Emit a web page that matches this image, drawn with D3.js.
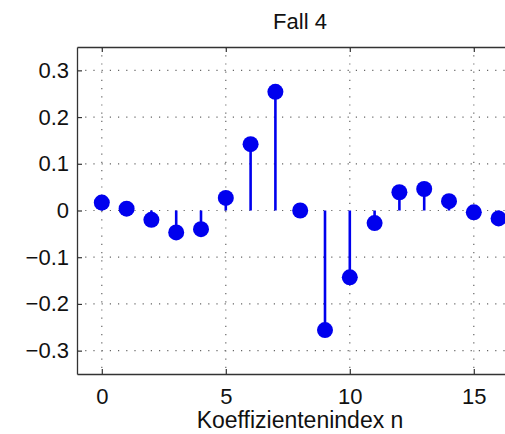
<!DOCTYPE html>
<html>
<head>
<meta charset="utf-8">
<title>Fall 4</title>
<script src="https://cdnjs.cloudflare.com/ajax/libs/d3/7.8.5/d3.min.js"></script>
<style>
  html, body { margin: 0; padding: 0; background: #fff; }
  svg { display: block; font-family: "Liberation Sans", Arial, sans-serif; }
</style>
</head>
<body>
<div id="chart"></div>
<script>
// coefficient index n and value h[n]
const indices = [0, 1, 2, 3, 4, 5, 6, 7, 8, 9, 10, 11, 12, 13, 14, 15, 16];
const coeffs = [0.017, 0.004, -0.020, -0.047, -0.040, 0.027, 0.142, 0.254, 0.000,
                -0.256, -0.143, -0.027, 0.039, 0.046, 0.020, -0.004, -0.017];
const xTicks = [0, 5, 10, 15];
const yTicks = [-0.3, -0.2, -0.1, 0, 0.1, 0.2, 0.3];

const width = 505, height = 434;
const plotLeft = 77, plotTop = 47, plotBottom = 374;

const svg = d3.select("#chart").append("svg")
  .attr("width", width)
  .attr("height", height);

const x = d3.scaleLinear().domain([-1, 17]).range([plotLeft, plotLeft + 18 * 24.8]);
const y = d3.scaleLinear().domain([-0.35, 0.35]).range([plotBottom, plotTop]);
const xRight = x(17);

// grid
const grid = svg.append("g").attr("stroke", "#666").attr("stroke-width", 1.2)
  .attr("stroke-dasharray", "1.2,7");
grid.selectAll(".gx").data(xTicks).enter().append("line")
  .attr("x1", d => x(d)).attr("x2", d => x(d))
  .attr("y1", plotTop).attr("y2", plotBottom);
grid.selectAll(".gy").data(yTicks).enter().append("line")
  .attr("x1", plotLeft).attr("x2", xRight)
  .attr("y1", d => y(d)).attr("y2", d => y(d));

// stems
svg.append("g").selectAll("line").data(indices).enter().append("line")
  .attr("x1", d => x(d)).attr("x2", d => x(d))
  .attr("y1", y(0)).attr("y2", (d, i) => y(coeffs[i]))
  .attr("stroke", "#0000ee").attr("stroke-width", 2.6);

svg.append("g").selectAll("circle").data(indices).enter().append("circle")
  .attr("cx", d => x(d))
  .attr("cy", (d, i) => y(coeffs[i]))
  .attr("r", 8)
  .attr("fill", "#0000ee");

// axes box (left, top, bottom)
const axisColor = "#333";
const xBottom = d3.axisBottom(x).tickValues(xTicks).tickSizeInner(-5).tickSizeOuter(0).tickPadding(14);
const xTop = d3.axisTop(x).tickValues(xTicks).tickSizeInner(-5).tickSizeOuter(0).tickFormat("");
const yLeft = d3.axisLeft(y).tickValues(yTicks).tickSizeInner(-5).tickSizeOuter(0).tickPadding(8)
  .tickFormat(d => d === 0 ? "0" : d3.format(".1f")(d).replace("-", "\u2212"));

const gxb = svg.append("g").attr("transform", `translate(0,${plotBottom})`).call(xBottom);
const gxt = svg.append("g").attr("transform", `translate(0,${plotTop})`).call(xTop);
const gyl = svg.append("g").attr("transform", `translate(${plotLeft},0)`).call(yLeft);

[gxb, gxt, gyl].forEach(g => {
  g.select(".domain").attr("stroke", axisColor).attr("stroke-width", 1.3);
  g.selectAll(".tick line").attr("stroke", axisColor).attr("stroke-width", 1.2);
  g.selectAll(".tick text").attr("fill", "#111").style("font-size", "22px")
    .style("font-family", "'Liberation Sans', Arial, sans-serif");
});

// titles
svg.append("text")
  .attr("x", 300).attr("y", 29)
  .attr("text-anchor", "middle")
  .style("font-size", "22px").attr("fill", "#111")
  .text("Fall 4");

svg.append("text")
  .attr("x", 300).attr("y", 428)
  .attr("text-anchor", "middle")
  .style("font-size", "23px").attr("fill", "#111")
  .text("Koeffizientenindex n");
</script>
</body>
</html>
